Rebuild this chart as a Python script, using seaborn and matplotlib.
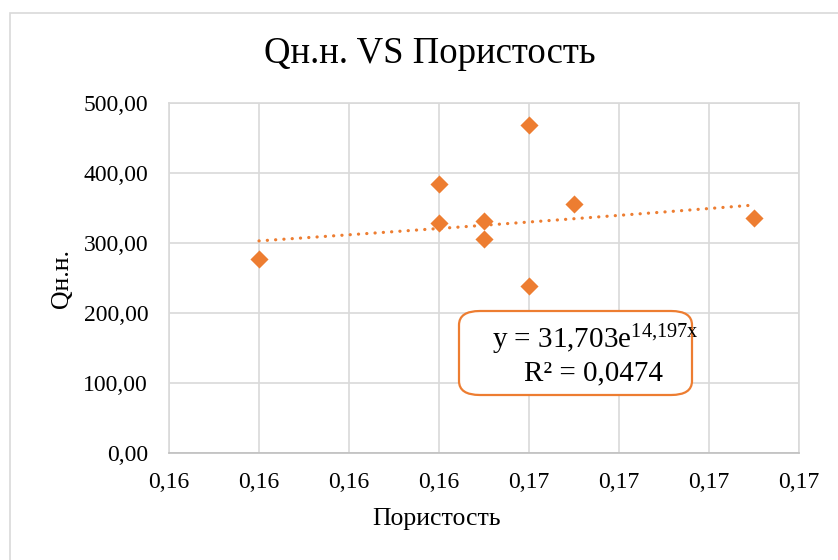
import numpy as np
import pandas as pd
import matplotlib
matplotlib.use("Agg")
import matplotlib.pyplot as plt
from matplotlib.patches import FancyBboxPatch, Rectangle
import seaborn as sns

# ---- data ----
porosity = [0.159, 0.163, 0.163, 0.164, 0.164, 0.165, 0.165, 0.166, 0.170]
q_nn = [277, 385, 329, 331, 305, 469, 239, 356, 335]
trend_a = 31.703
trend_b = 14.197
x_ticks = [0.157, 0.159, 0.161, 0.163, 0.165, 0.167, 0.169, 0.171]
x_tick_labels = ["0,16", "0,16", "0,16", "0,16", "0,17", "0,17", "0,17", "0,17"]
y_ticks = [0, 100, 200, 300, 400, 500]
y_tick_labels = ["0,00", "100,00", "200,00", "300,00", "400,00", "500,00"]
title = "Qн.н. VS Пористость"
x_label = "Пористость"
y_label = "Qн.н."
eq_line1 = r"y = 31,703e$^{\mathrm{14{,}197x}}$"
eq_line2 = "R² = 0,0474"

sns.set_theme(style="white")
plt.rcParams["font.family"] = ["Liberation Serif", "DejaVu Serif"]
plt.rcParams["mathtext.fontset"] = "custom"
plt.rcParams["mathtext.rm"] = "Liberation Serif"
plt.rcParams["mathtext.it"] = "Liberation Serif"

ORANGE = "#ED7D31"
GRID = "#D9D9D9"

W, H = 838, 560
fig = plt.figure(figsize=(W / 100, H / 100), dpi=100)
fig.patch.set_facecolor("white")

# chart border (extends past right/bottom edges as in the screenshot)
fig.patches.append(Rectangle((10 / W, -0.1), 1.2, 1 - 13 / H + 0.1,
                             transform=fig.transFigure, fill=False,
                             edgecolor=GRID, linewidth=1.2))

ax = fig.add_axes([169 / W, 1 - 453 / H, 630 / W, 350 / H])

df = pd.DataFrame({"x": porosity, "y": q_nn})

# trendline (exponential fit shown in label)
xs = np.linspace(min(porosity), max(porosity), 200)
ys = trend_a * np.exp(trend_b * xs)
ax.plot(xs, ys, color=ORANGE, linewidth=2.3, linestyle=(0, (0.05, 2.55)),
        dash_capstyle="round", zorder=2)

sns.scatterplot(data=df, x="x", y="y", marker="D", s=85, color=ORANGE,
                linewidth=0, ax=ax, zorder=3)

ax.set_xlim(0.157, 0.171)
ax.set_ylim(0, 500)
ax.set_xticks(x_ticks)
ax.set_xticklabels(x_tick_labels)
ax.set_yticks(y_ticks)
ax.set_yticklabels(y_tick_labels)
ax.tick_params(axis="both", length=0, labelsize=17, colors="black")
ax.tick_params(axis="y", pad=15)
ax.tick_params(axis="x", pad=14)
ax.grid(True, color=GRID, linewidth=1.2)
ax.set_axisbelow(True)
for name, sp in ax.spines.items():
    sp.set_color(GRID)
    sp.set_linewidth(1.2)
ax.spines["bottom"].set_color("#BFBFBF")

ax.set_xlabel(x_label, fontsize=18.5, color="black")
ax.set_ylabel(y_label, fontsize=18.5, color="black")
ax.xaxis.set_label_coords((437 - 169) / 630, -0.156)
ax.yaxis.set_label_coords((73 - 169) / 630, 0.5)

fig.text(430 / W, 1 - 54 / H, title, ha="center", va="center",
         fontsize=26.5, color="black")

# equation box
box = FancyBboxPatch((459 / W, 1 - 395 / H), (692 - 459) / W, (395 - 311) / H,
                     boxstyle="round,pad=0,rounding_size=0.025",
                     transform=fig.transFigure, facecolor="white",
                     edgecolor=ORANGE, linewidth=1.6, zorder=5)
fig.patches.append(box)
fig.text(492 / W, 1 - 348 / H, eq_line1, ha="left", va="baseline",
         fontsize=21, color="black", zorder=6)
fig.text(524 / W, 1 - 380 / H, eq_line2, ha="left", va="baseline",
         fontsize=21, color="black", zorder=6)

fig.savefig("out.png", dpi=100, facecolor="white")
